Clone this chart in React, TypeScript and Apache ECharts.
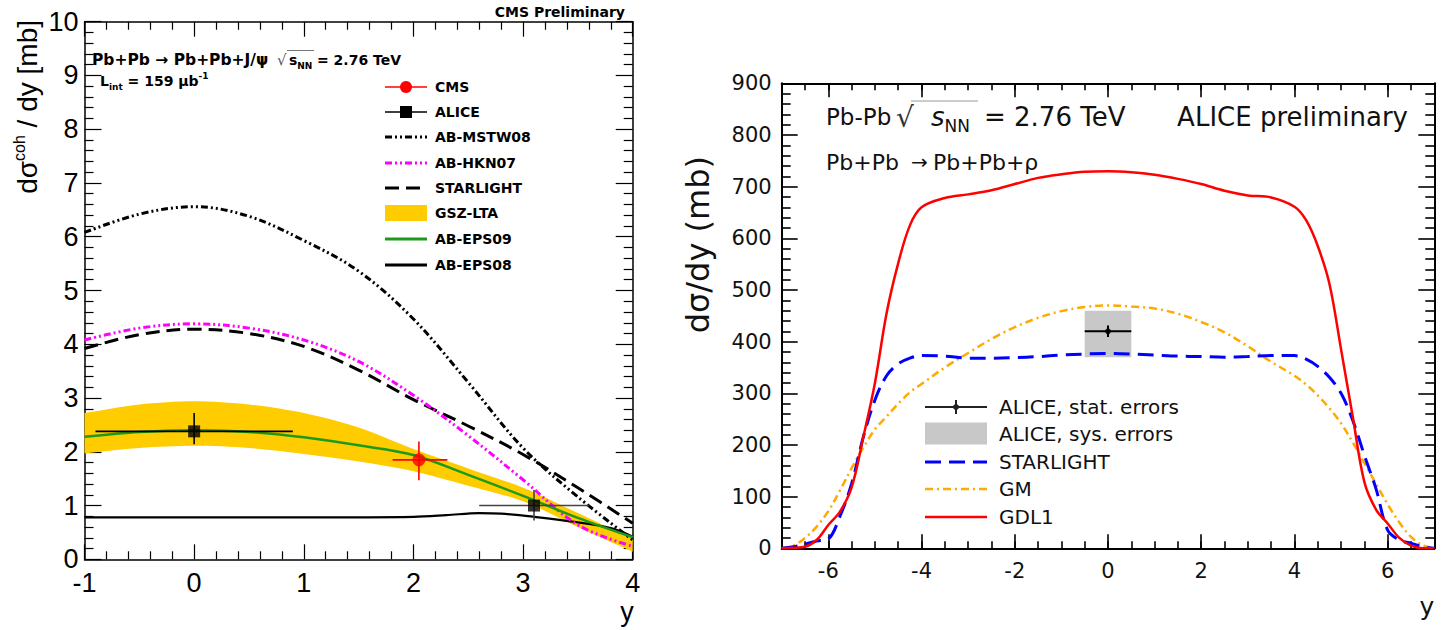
import React, { useEffect, useRef } from "react";
import * as echarts from "echarts";

// ---------------- Left panel (CMS, coherent J/psi) ----------------
const leftRapidity = [-1, -0.5, 0, 0.5, 1, 1.5, 2, 2.5, 3, 3.5, 4];
const abMstw08 = [6.08, 6.42, 6.56, 6.38, 5.93, 5.36, 4.47, 3.29, 2.07, 1.16, 0.36];
const abHkn07 = [4.08, 4.3, 4.38, 4.3, 4.08, 3.68, 3.05, 2.3, 1.48, 0.64, 0.24];
const starlightJpsi = [3.92, 4.18, 4.28, 4.2, 3.96, 3.52, 2.97, 2.48, 1.95, 1.33, 0.67];
const gszLtaUpper = [2.72, 2.88, 2.94, 2.88, 2.72, 2.45, 2.05, 1.69, 1.33, 0.86, 0.38];
const gszLtaLower = [1.97, 2.07, 2.11, 2.07, 1.96, 1.82, 1.64, 1.37, 1.08, 0.6, 0.14];
const abEps09 = [2.28, 2.37, 2.4, 2.37, 2.27, 2.12, 1.94, 1.57, 1.18, 0.77, 0.41];
const eps08Rapidity = [-1, 0, 1, 2, 2.3, 2.6, 2.8, 3.1, 3.45, 3.8, 4];
const abEps08 = [0.78, 0.78, 0.78, 0.79, 0.82, 0.86, 0.85, 0.79, 0.7, 0.58, 0.42];

const cmsX = [2.05];
const cmsY = [1.85];
const cmsXLo = [1.81];
const cmsXHi = [2.31];
const cmsYLo = [1.47];
const cmsYHi = [2.19];

const aliceJpsiX = [0, 3.1];
const aliceJpsiY = [2.38, 1.0];
const aliceJpsiXLo = [-0.9, 2.6];
const aliceJpsiXHi = [0.9, 3.6];
const aliceJpsiYLo = [2.14, 0.72];
const aliceJpsiYHi = [2.72, 1.29];
const aliceJpsiErrColor = ["#000000", "#444444"];

const leftLegendLabels = ["CMS", "ALICE", "AB-MSTW08", "AB-HKN07", "STARLIGHT", "GSZ-LTA", "AB-EPS09", "AB-EPS08"];

// ---------------- Right panel (ALICE, rho0) ----------------
const rightRapidity = [
  -7, -6.75, -6.5, -6.25, -6, -5.75, -5.5, -5.25, -5, -4.75, -4.5, -4.25, -4, -3.5, -3, -2.5, -2, -1.5, -1, -0.5,
  0, 0.5, 1, 1.5, 2, 2.5, 3, 3.5, 4, 4.25, 4.5, 4.75, 5, 5.25, 5.5, 5.75, 6, 6.25, 6.5, 6.75, 7,
];
const gdl1 = [
  0, 1, 3, 16, 45, 71, 118, 215, 320, 455, 552, 625, 660, 678, 685, 693, 705, 717, 724, 729,
  730, 728, 723, 715, 705, 692, 683, 679, 661, 635, 585, 512, 385, 255, 128, 75, 48, 20, 5, 0, 0,
];
const starlightRho = [
  0, 3, 8, 14, 18, 62, 125, 215, 287, 334, 357, 368, 373, 372, 368, 368, 369, 371, 374, 376,
  377, 376, 374, 372, 371, 370, 371, 373, 373, 366, 352, 331, 300, 248, 180, 115, 35, 16, 10, 3, 0,
];
const gmModel = [
  0, 5, 20, 42, 72, 112, 155, 195, 230, 255, 280, 302, 318, 350, 378, 405, 428, 446, 459, 467,
  470, 468, 464, 454, 438, 418, 391, 361, 334, 317, 296, 271, 242, 205, 165, 125, 85, 50, 22, 6, 0,
];

const aliceRhoX = [0];
const aliceRhoY = [420];
const aliceRhoXLo = [-0.5];
const aliceRhoXHi = [0.5];
const aliceRhoStatLo = [409];
const aliceRhoStatHi = [431];
const aliceRhoSysLo = [370];
const aliceRhoSysHi = [460];

const rightXMajor = [-6, -4, -2, 0, 2, 4, 6];
const rightLegendLabels = ["ALICE, stat. errors", "ALICE, sys. errors", "STARLIGHT", "GM", "GDL1"];

// ---------------- styling ----------------
const LF = '"Liberation Sans", Arial, Helvetica, sans-serif';
const DJ = '"DejaVu Sans", sans-serif';
const BLACK = "#000000";
const MAGENTA = "#ff00ff";
const GREEN = "#1c9a1c";
const GOLD = "#ffcc00";
const RED = "#ff0000";
const BLUE = "#0000ff";
const ORANGE = "#ffaa00";
const GREY = "#c8c8c8";

const pairs = (xs: number[], ys: number[]) => xs.map((x, i) => [x, ys[i]]);

function errorBarSeries(xAxisIndex: number, yAxisIndex: number, rows: number[][], colors: string[], width: number) {
  return {
    type: "custom",
    xAxisIndex,
    yAxisIndex,
    silent: true,
    z: 6,
    data: rows,
    encode: { x: 0, y: 1 },
    renderItem: (params: any, api: any) => {
      const x = api.value(0);
      const y = api.value(1);
      const a = api.coord([api.value(2), y]);
      const b = api.coord([api.value(3), y]);
      const c = api.coord([x, api.value(4)]);
      const d = api.coord([x, api.value(5)]);
      const col = colors[params.dataIndex % colors.length];
      return {
        type: "group",
        children: [
          { type: "line", shape: { x1: a[0], y1: a[1], x2: b[0], y2: b[1] }, style: { stroke: col, lineWidth: width } },
          { type: "line", shape: { x1: c[0], y1: c[1], x2: d[0], y2: d[1] }, style: { stroke: col, lineWidth: width } },
        ],
      };
    },
  };
}

function valueAxis(extra: any) {
  return {
    type: "value",
    splitLine: { show: false },
    axisLine: { show: true, onZero: false, lineStyle: { color: BLACK, width: 1.5 } },
    ...extra,
  };
}

function buildOption() {
  const tickStyle = { color: BLACK, width: 1.2 };
  const leftX = (position: string, labels: boolean) =>
    valueAxis({
      gridIndex: 0,
      position,
      min: -1,
      max: 4,
      interval: 1,
      axisTick: { show: true, inside: true, length: 15, lineStyle: tickStyle },
      minorTick: { show: true, splitNumber: 5, length: 8, lineStyle: tickStyle },
      axisLabel: { show: labels, fontSize: 27, fontFamily: LF, color: BLACK, margin: 10 },
    });
  const leftY = (position: string, labels: boolean) =>
    valueAxis({
      gridIndex: 0,
      position,
      min: 0,
      max: 10,
      interval: 1,
      axisTick: { show: true, inside: true, length: 17, lineStyle: tickStyle },
      minorTick: { show: true, splitNumber: 5, length: 9, lineStyle: tickStyle },
      axisLabel: { show: labels, fontSize: 27, fontFamily: LF, color: BLACK, margin: 6 },
    });
  const rTick = { color: BLACK, width: 1.6 };
  const rightXMinor = (position: string) =>
    valueAxis({
      gridIndex: 1,
      position,
      min: -7,
      max: 7,
      interval: 0.5,
      axisLine: { show: true, onZero: false, lineStyle: { color: BLACK, width: 2 } },
      axisTick: { show: true, inside: true, length: 7, lineStyle: rTick },
      axisLabel: { show: false },
    });
  const rightXMajorAxis = (position: string, labels: boolean) =>
    valueAxis({
      gridIndex: 1,
      position,
      min: -7,
      max: 7,
      axisLine: { show: false, onZero: false },
      axisTick: { show: true, inside: true, length: 14, lineStyle: rTick, customValues: rightXMajor },
      axisLabel: {
        show: labels,
        customValues: rightXMajor,
        fontSize: 21,
        fontFamily: DJ,
        color: "#111",
        margin: 12,
      },
    });
  const rightY = (position: string, labels: boolean) =>
    valueAxis({
      gridIndex: 1,
      position,
      min: 0,
      max: 900,
      interval: 100,
      axisLine: { show: true, onZero: false, lineStyle: { color: BLACK, width: 2 } },
      axisTick: { show: true, inside: true, length: 16, lineStyle: rTick },
      minorTick: { show: true, splitNumber: 5, length: 9, lineStyle: rTick },
      axisLabel: { show: labels, fontSize: 21, fontFamily: DJ, color: "#111", margin: 10 },
    });

  const lineBase = { type: "line", showSymbol: false, symbol: "none", smooth: 0.35, silent: true };

  const series: any[] = [
    // ---- left panel ----
    {
      type: "custom",
      name: "GSZ-LTA",
      xAxisIndex: 0,
      yAxisIndex: 0,
      silent: true,
      clip: true,
      z: 1,
      data: leftRapidity.map((x, i) => [x, gszLtaLower[i], gszLtaUpper[i]]),
      encode: { x: 0, y: [1, 2] },
      renderItem: (params: any, api: any) => {
        if (params.dataIndex !== 0) return null;
        const upper = leftRapidity.map((x, i) => api.coord([x, gszLtaUpper[i]]));
        const lower = leftRapidity.map((x, i) => api.coord([x, gszLtaLower[i]])).reverse();
        // repeat the corner vertices so the smoothed outline keeps sharp ends
        const pts = [upper[0], ...upper, upper[upper.length - 1], lower[0], ...lower, lower[lower.length - 1]];
        return {
          type: "polygon",
          shape: { points: pts, smooth: 0.3 },
          style: { fill: GOLD },
        };
      },
    },
    {
      ...lineBase,
      name: "AB-EPS08",
      xAxisIndex: 0,
      yAxisIndex: 0,
      lineStyle: { color: BLACK, width: 2.2 },
      data: pairs(eps08Rapidity, abEps08),
    },
    {
      ...lineBase,
      name: "STARLIGHT",
      xAxisIndex: 0,
      yAxisIndex: 0,
      lineStyle: { color: BLACK, width: 3, type: [14, 7] },
      data: pairs(leftRapidity, starlightJpsi),
    },
    {
      ...lineBase,
      name: "AB-HKN07",
      xAxisIndex: 0,
      yAxisIndex: 0,
      lineStyle: { color: MAGENTA, width: 3, type: [7, 3, 2, 3, 2, 3] },
      data: pairs(leftRapidity, abHkn07),
    },
    {
      ...lineBase,
      name: "AB-MSTW08",
      xAxisIndex: 0,
      yAxisIndex: 0,
      lineStyle: { color: BLACK, width: 3, type: [7, 3, 2, 3, 2, 3] },
      data: pairs(leftRapidity, abMstw08),
    },
    {
      ...lineBase,
      name: "AB-EPS09",
      xAxisIndex: 0,
      yAxisIndex: 0,
      lineStyle: { color: GREEN, width: 2.5 },
      data: pairs(leftRapidity, abEps09),
      z: 3,
    },
    errorBarSeries(
      0,
      0,
      aliceJpsiX.map((x, i) => [x, aliceJpsiY[i], aliceJpsiXLo[i], aliceJpsiXHi[i], aliceJpsiYLo[i], aliceJpsiYHi[i]]),
      aliceJpsiErrColor,
      1.6
    ),
    errorBarSeries(
      0,
      0,
      cmsX.map((x, i) => [x, cmsY[i], cmsXLo[i], cmsXHi[i], cmsYLo[i], cmsYHi[i]]),
      [RED],
      1.6
    ),
    {
      type: "scatter",
      name: "CMS",
      xAxisIndex: 0,
      yAxisIndex: 0,
      symbol: "circle",
      symbolSize: 13,
      itemStyle: { color: RED },
      data: pairs(cmsX, cmsY),
      z: 7,
      silent: true,
    },
    {
      type: "scatter",
      name: "ALICE",
      xAxisIndex: 0,
      yAxisIndex: 0,
      symbol: "rect",
      symbolSize: 12,
      itemStyle: { color: BLACK },
      data: pairs(aliceJpsiX, aliceJpsiY),
      z: 7,
      silent: true,
    },
    // ---- right panel ----
    {
      type: "custom",
      name: "ALICE, sys. errors",
      xAxisIndex: 2,
      yAxisIndex: 2,
      silent: true,
      z: 1,
      data: aliceRhoX.map((x, i) => [x, aliceRhoXLo[i], aliceRhoXHi[i], aliceRhoSysLo[i], aliceRhoSysHi[i]]),
      encode: { x: 0, y: 4 },
      renderItem: (params: any, api: any) => {
        const p1 = api.coord([api.value(1), api.value(4)]);
        const p2 = api.coord([api.value(2), api.value(3)]);
        return {
          type: "rect",
          shape: { x: p1[0], y: p1[1], width: p2[0] - p1[0], height: p2[1] - p1[1] },
          style: { fill: GREY },
        };
      },
    },
    {
      ...lineBase,
      name: "GM",
      xAxisIndex: 2,
      yAxisIndex: 2,
      lineStyle: { color: ORANGE, width: 2.5, type: [8, 4, 2, 4] },
      data: pairs(rightRapidity, gmModel),
    },
    {
      ...lineBase,
      name: "STARLIGHT ρ",
      xAxisIndex: 2,
      yAxisIndex: 2,
      lineStyle: { color: BLUE, width: 3, type: [16, 8] },
      data: pairs(rightRapidity, starlightRho),
    },
    {
      ...lineBase,
      name: "GDL1",
      xAxisIndex: 2,
      yAxisIndex: 2,
      lineStyle: { color: RED, width: 2.5 },
      data: pairs(rightRapidity, gdl1),
    },
    errorBarSeries(
      2,
      2,
      aliceRhoX.map((x, i) => [x, aliceRhoY[i], aliceRhoXLo[i], aliceRhoXHi[i], aliceRhoStatLo[i], aliceRhoStatHi[i]]),
      [BLACK],
      2
    ),
    {
      type: "scatter",
      name: "ALICE, stat. errors",
      xAxisIndex: 2,
      yAxisIndex: 2,
      symbol: "circle",
      symbolSize: 6,
      itemStyle: { color: BLACK },
      data: pairs(aliceRhoX, aliceRhoY),
      z: 7,
      silent: true,
    },
  ];

  // ---------------- graphic: legends & annotations ----------------
  const g: any[] = [];
  const boldL = { fontFamily: DJ, fontWeight: "bold", fontSize: 14, fill: BLACK };
  const txt = (x: number, y: number, text: string, style: any, align = "left") => ({
    type: "text",
    x,
    y,
    silent: true,
    style: { text, align, verticalAlign: "middle", ...style },
  });

  // Left header texts
  g.push(txt(625, 12, "CMS Preliminary", boldL, "right"));
  g.push(txt(92, 60, "Pb+Pb → Pb+Pb+J/ψ", { ...boldL, fontSize: 15.5 }));
  g.push(txt(277, 60, "√", { fontFamily: DJ, fontSize: 15, fill: "#555" }));
  g.push({
    type: "line",
    silent: true,
    shape: { x1: 287, y1: 50.5, x2: 314, y2: 50.5 },
    style: { stroke: "#777", lineWidth: 1 },
  });
  g.push({
    type: "text",
    x: 289,
    y: 60,
    silent: true,
    style: {
      text: "{b|s}{sub|NN}",
      verticalAlign: "middle",
      rich: {
        b: { ...boldL, lineHeight: 20 },
        sub: { ...boldL, fontSize: 9, lineHeight: 10, verticalAlign: "bottom" },
      },
    },
  });
  g.push(txt(317, 60, "= 2.76 TeV", boldL));
  g.push({
    type: "text",
    x: 100,
    y: 81,
    silent: true,
    style: {
      text: "{b|L}{sub|int}{b| = 159 μb}{sup|-1}",
      verticalAlign: "middle",
      rich: {
        b: { ...boldL, lineHeight: 20 },
        sub: { ...boldL, fontSize: 9, lineHeight: 10, verticalAlign: "bottom" },
        sup: { ...boldL, fontSize: 9, lineHeight: 10, verticalAlign: "top" },
      },
    },
  });

  // Left legend
  const lRows = [87, 112, 137, 163, 188, 213, 239, 265];
  const lx1 = 385;
  const lx2 = 427;
  const lcx = (lx1 + lx2) / 2;
  const hline = (y: number, stroke: string, lineWidth: number, lineDash?: number[]) => ({
    type: "line",
    silent: true,
    shape: { x1: lx1, y1: y, x2: lx2, y2: y },
    style: { stroke, lineWidth, lineDash },
  });
  g.push(hline(lRows[0], RED, 1.5));
  g.push({ type: "circle", silent: true, shape: { cx: lcx, cy: lRows[0], r: 6 }, style: { fill: RED } });
  g.push(hline(lRows[1], BLACK, 1.5));
  g.push({ type: "rect", silent: true, shape: { x: lcx - 6, y: lRows[1] - 6, width: 12, height: 12 }, style: { fill: BLACK } });
  g.push(hline(lRows[2], BLACK, 3, [7, 3, 2, 3, 2, 3]));
  g.push(hline(lRows[3], MAGENTA, 3, [7, 3, 2, 3, 2, 3]));
  g.push(hline(lRows[4], BLACK, 3, [14, 7]));
  g.push({ type: "rect", silent: true, shape: { x: lx1, y: lRows[5] - 8, width: lx2 - lx1, height: 16 }, style: { fill: GOLD } });
  g.push(hline(lRows[6], GREEN, 3));
  g.push(hline(lRows[7], BLACK, 3));
  leftLegendLabels.forEach((label, i) => g.push(txt(435, lRows[i], label, boldL)));

  // Left axis titles
  g.push({
    type: "text",
    x: 27,
    y: 20,
    rotation: Math.PI / 2,
    silent: true,
    style: {
      text: "{a|dσ}{sup|coh}{a| / dy [mb]}",
      align: "right",
      verticalAlign: "middle",
      rich: {
        a: { fontFamily: LF, fontSize: 28, fill: BLACK, lineHeight: 32 },
        sup: { fontFamily: LF, fontSize: 16, fill: BLACK, lineHeight: 17, verticalAlign: "top" },
      },
    },
  });
  g.push(txt(627, 612, "y", { fontFamily: LF, fontSize: 27, fill: BLACK }, "center"));

  // Right header texts
  const rTitle = { fontFamily: DJ, fontSize: 26, fill: "#111" };
  g.push(txt(826, 117, "Pb-Pb", { ...rTitle, fontSize: 23 }));
  g.push(txt(896, 117, "√", { fontFamily: DJ, fontSize: 28, fill: "#333" }));
  g.push({
    type: "line",
    silent: true,
    shape: { x1: 911, y1: 101, x2: 978, y2: 101 },
    style: { stroke: "#999", lineWidth: 1 },
  });
  g.push({
    type: "text",
    x: 931,
    y: 117,
    silent: true,
    style: {
      text: "{i|s}{sub|NN}",
      verticalAlign: "middle",
      rich: {
        i: { ...rTitle, fontStyle: "italic", lineHeight: 34 },
        sub: { fontFamily: DJ, fontSize: 17, fill: "#111", lineHeight: 20, verticalAlign: "bottom" },
      },
    },
  });
  g.push(txt(984, 117, "= 2.76 TeV", rTitle));
  g.push(txt(1408, 117, "ALICE preliminary", rTitle, "right"));
  const rSub = { fontFamily: DJ, fontSize: 20, fill: "#111" };
  g.push(txt(826, 162, "Pb+Pb", { ...rSub, fontSize: 22 }));
  g.push(txt(911, 162, "→", rSub));
  g.push(txt(933, 162, "Pb+Pb+ρ", { ...rSub, fontSize: 22 }));

  // Right legend
  const rRows = [407, 433.5, 462, 489, 517];
  const rx1 = 925;
  const rx2 = 987;
  const rcx = (rx1 + rx2) / 2;
  const rline = (y: number, stroke: string, lineWidth: number, lineDash?: number[]) => ({
    type: "line",
    silent: true,
    shape: { x1: rx1, y1: y, x2: rx2, y2: y },
    style: { stroke, lineWidth, lineDash },
  });
  g.push(rline(rRows[0], "#222", 2));
  g.push({ type: "line", silent: true, shape: { x1: rcx, y1: rRows[0] - 7, x2: rcx, y2: rRows[0] + 7 }, style: { stroke: "#222", lineWidth: 2 } });
  g.push({ type: "circle", silent: true, shape: { cx: rcx, cy: rRows[0], r: 3 }, style: { fill: "#222" } });
  g.push({ type: "rect", silent: true, shape: { x: rx1, y: rRows[1] - 11, width: rx2 - rx1, height: 22 }, style: { fill: GREY } });
  g.push(rline(rRows[2], BLUE, 3, [16, 8]));
  g.push(rline(rRows[3], ORANGE, 2.5, [8, 4, 2, 4]));
  g.push(rline(rRows[4], RED, 2.5));
  rightLegendLabels.forEach((label, i) => g.push(txt(999, rRows[i], label, rSub)));

  // Right axis titles
  g.push({
    type: "text",
    x: 698,
    y: 156,
    rotation: Math.PI / 2,
    silent: true,
    style: { text: "dσ/dy (mb)", align: "right", verticalAlign: "middle", fontFamily: DJ, fontSize: 32, fill: "#111" },
  });
  g.push(txt(1427, 606, "y", { fontFamily: DJ, fontSize: 25, fill: "#111" }, "center"));

  return {
    animation: false,
    backgroundColor: "#ffffff",
    grid: [
      { left: 84.5, top: 21.7, width: 548.2, height: 537.6, containLabel: false },
      { left: 781.7, top: 83.3, width: 652.6, height: 465, containLabel: false },
    ],
    xAxis: [
      leftX("bottom", true),
      leftX("top", false),
      rightXMinor("bottom"),
      rightXMajorAxis("bottom", true),
      rightXMinor("top"),
      rightXMajorAxis("top", false),
    ],
    yAxis: [leftY("left", true), leftY("right", false), rightY("left", true), rightY("right", false)],
    series,
    graphic: { elements: g },
  };
}

export default function App() {
  const ref = useRef<HTMLDivElement>(null);
  useEffect(() => {
    if (!ref.current) return;
    const chart = echarts.init(ref.current, null, { renderer: "svg" });
    chart.setOption(buildOption() as any);
    return () => chart.dispose();
  }, []);
  return (
    <div
      ref={ref}
      style={{ position: "fixed", left: 0, top: 0, width: 1450, height: 630, background: "#fff" }}
    />
  );
}
